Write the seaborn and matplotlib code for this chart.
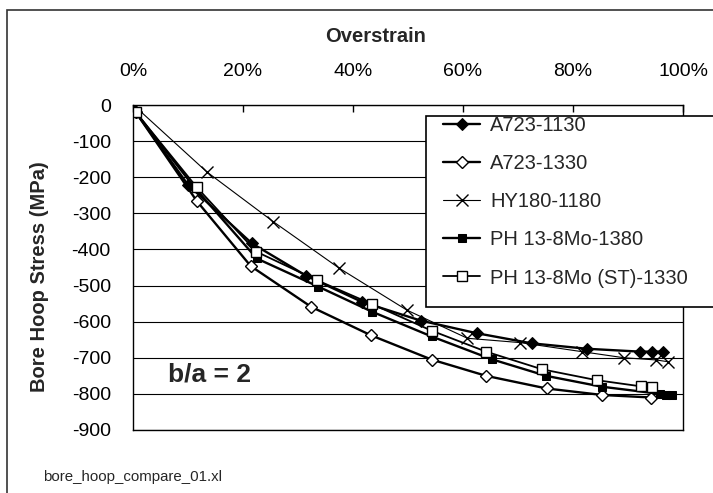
import matplotlib
matplotlib.use('Agg')
import matplotlib.pyplot as plt
import seaborn as sns
import pandas as pd
from matplotlib.patches import Rectangle
from matplotlib.ticker import FuncFormatter

# Values (overstrain in %, bore hoop stress in MPa)
a1130_x = [0.5, 10.0, 21.6, 31.5, 41.6, 52.3, 62.5, 72.5, 82.5, 92.2, 94.3, 96.3]
a1130_y = [-20, -221, -383, -473, -545, -597, -632, -660, -675, -683, -683, -683]

a1330_x = [0.5, 11.6, 21.4, 32.4, 43.3, 54.3, 64.2, 75.2, 85.3, 94.2]
a1330_y = [-20, -266, -446, -559, -638, -705, -750, -785, -803, -810]

hy1180_x = [0.3, 13.4, 25.5, 37.5, 49.8, 60.8, 70.4, 81.6, 89.3, 95.1, 97.3]
hy1180_y = [-3, -185, -323, -452, -568, -646, -658, -683, -700, -706, -711]

ph1380_x = [0.5, 11.0, 22.5, 33.7, 43.4, 54.3, 65.2, 75.1, 85.2, 95.8, 96.9, 98.0]
ph1380_y = [-20, -225, -425, -503, -572, -641, -704, -750, -780, -800, -803, -803]

phst1330_x = [0.5, 11.6, 22.4, 33.4, 43.4, 54.3, 64.2, 74.4, 84.3, 92.3, 94.3]
phst1330_y = [-20, -228, -406, -485, -551, -625, -683, -732, -762, -779, -782]

series_names = ['A723-1130', 'A723-1330', 'HY180-1180', 'PH 13-8Mo-1380', 'PH 13-8Mo (ST)-1330']
series_data = [(a1130_x, a1130_y), (a1330_x, a1330_y), (hy1180_x, hy1180_y),
               (ph1380_x, ph1380_y), (phst1330_x, phst1330_y)]

styles = {
    'A723-1130': dict(marker='D', markersize=6, markerfacecolor='black', markeredgecolor='black', linewidth=1.7),
    'A723-1330': dict(marker='D', markersize=6, markerfacecolor='white', markeredgecolor='black', markeredgewidth=1, linewidth=1.7),
    'HY180-1180': dict(marker='x', markersize=9, markeredgecolor='black', markeredgewidth=1, linewidth=0.8),
    'PH 13-8Mo-1380': dict(marker='s', markersize=6, markerfacecolor='black', markeredgecolor='black', linewidth=1.7),
    'PH 13-8Mo (ST)-1330': dict(marker='s', markersize=7, markerfacecolor='white', markeredgecolor='black', markeredgewidth=1, linewidth=1.3),
}

rows = []
for name, (xs, ys) in zip(series_names, series_data):
    for xv, yv in zip(xs, ys):
        rows.append({'series': name, 'overstrain': xv, 'stress': yv})
df = pd.DataFrame(rows)

sns.set_style('white')
plt.rcParams['font.family'] = ['Liberation Sans', 'DejaVu Sans']
plt.rcParams['axes.unicode_minus'] = False

fig = plt.figure(figsize=(7.13, 4.93), dpi=100)
ax = fig.add_axes([133 / 713, 1 - 430 / 493, 550 / 713, 325 / 493])

for name in series_names:
    sub = df[df['series'] == name]
    sns.lineplot(data=sub, x='overstrain', y='stress', ax=ax, color='black', sort=False,
                 label=name, estimator=None, **styles[name])

ax.set_xlim(0, 100)
ax.set_ylim(-900, 0)
ax.set_xticks([0, 20, 40, 60, 80, 100])
ax.set_yticks(range(-900, 1, 100))
ax.xaxis.set_major_formatter(FuncFormatter(lambda v, p: f'{v:.0f}%'))
ax.xaxis.tick_top()
ax.tick_params(axis='x', direction='in', length=5, width=1, pad=18, labelsize=14, colors='black')
ax.tick_params(axis='y', direction='out', length=5, width=1, pad=11, labelsize=14, colors='black')
ax.set_xlabel('')
ax.set_ylabel('')
ax.yaxis.grid(True, color='black', linewidth=0.8)
ax.xaxis.grid(False)
for sp in ax.spines.values():
    sp.set_color('black')
    sp.set_linewidth(1)

# legend box runs past the right edge like the reference, so draw it by hand
legend_box = Rectangle((426 / 713, 1 - 307 / 493), 400 / 713, 191 / 493,
                       transform=fig.transFigure, facecolor='white',
                       edgecolor='black', linewidth=1.2, zorder=4, clip_on=False)
ax.add_patch(legend_box)
leg = ax.legend(loc='upper left', bbox_to_anchor=(443 / 713, 1 - 116 / 493),
                bbox_transform=fig.transFigure, frameon=False, fontsize=14.5,
                handlelength=1.85, handletextpad=0.5, labelspacing=0.95,
                borderpad=0, borderaxespad=0)
leg.set_zorder(5)

# outer chart-area border
fig.patches.append(Rectangle((7 / 713, -0.2), 2.0, 1.2 - 10 / 493, transform=fig.transFigure,
                             facecolor='none', edgecolor='#333333', linewidth=1.2))

fig.text(376 / 713, 1 - 37 / 493, 'Overstrain', ha='center', va='center',
         fontsize=14.5, fontweight='bold')
fig.text(40 / 713, 1 - 277 / 493, 'Bore Hoop Stress (MPa)', ha='center', va='center',
         rotation=90, fontsize=14.5, fontweight='bold')
fig.text(168 / 713, 1 - 375 / 493, 'b/a = 2', ha='left', va='center',
         fontsize=19, fontweight='bold')
fig.text(43 / 713, 1 - 477 / 493, 'bore_hoop_compare_01.xl', ha='left', va='center',
         fontsize=10.8)

fig.savefig('out.png', dpi=100)
